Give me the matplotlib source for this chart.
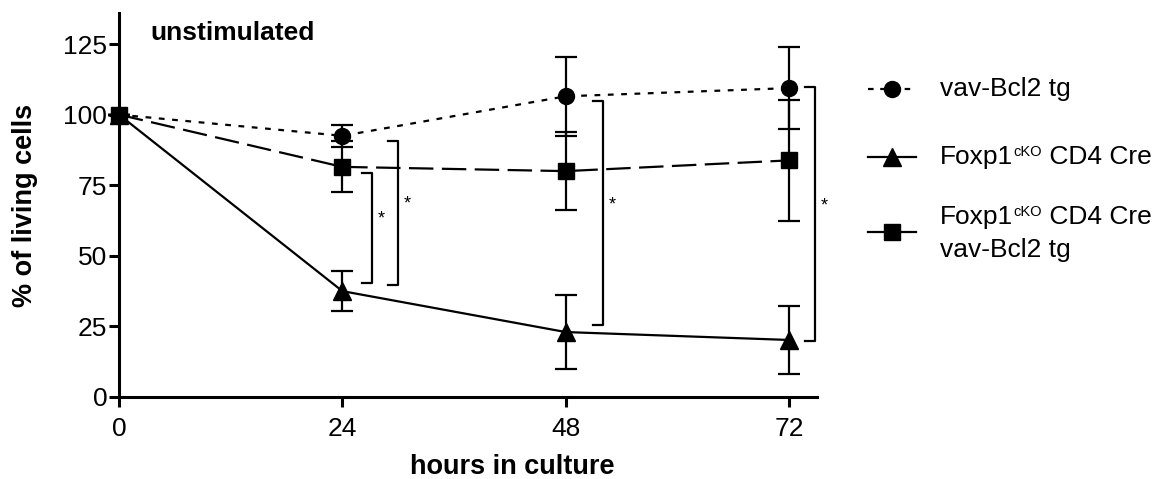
import matplotlib
import matplotlib.pyplot as plt
from matplotlib.lines import Line2D
from matplotlib.offsetbox import TextArea, HPacker, AnchoredOffsetbox
matplotlib.use('Agg')

plt.rcParams['font.family'] = ['Liberation Sans', 'DejaVu Sans']

# time points (hours in culture)
hours = [0, 24, 48, 72]

# vav-Bcl2 tg
bcl2_mean = [100, 92.5, 106.5, 109.4]
bcl2_sd = [0, 4.0, 13.9, 14.6]

# Foxp1 cKO CD4 Cre
ko_mean = [100, 37.5, 23.0, 20.2]
ko_sd = [0, 7.0, 13.0, 12.0]

# Foxp1 cKO CD4 Cre vav-Bcl2 tg
kob_mean = [100, 81.5, 80.0, 83.8]
kob_sd = [0, 9.0, 13.8, 21.3]

# significance brackets: (left x, low y, high y)
sig_x = [26.1, 28.9, 50.9, 73.7]
sig_lo = [40.5, 39.6, 25.5, 19.9]
sig_hi = [79.3, 90.8, 104.7, 109.7]

W, H = 1162, 479
fig = plt.figure(figsize=(W / 100, H / 100), dpi=100)
ax = fig.add_axes([119 / W, 1 - 397 / H, 698 / W, 384 / H])

dot_ls = (0, (2.6, 3.4))
dash_ls = (0, (11, 3.8))
common = dict(color='black', ecolor='black', elinewidth=1.6, capsize=8,
              capthick=1.6, lw=1.6, clip_on=False)
ax.errorbar(hours, bcl2_mean, yerr=bcl2_sd, fmt='o', ms=11.5, ls=dot_ls, **common)
ax.errorbar(hours, ko_mean, yerr=ko_sd, fmt='^', ms=13, ls='-', **common)
ax.errorbar(hours, kob_mean, yerr=kob_sd, fmt='s', ms=11, ls=dash_ls, **common)

# significance brackets
for x0, lo, hi in zip(sig_x, sig_lo, sig_hi):
    x1 = x0 + 1.1
    ax.plot([x0, x1, x1, x0], [lo, lo, hi, hi], color='black', lw=1.6,
            clip_on=False)
    ax.text(x1 + 0.6, (lo + hi) / 2 + 3, '*', fontsize=13, ha='left',
            va='center', clip_on=False)

ax.set_xlim(0, 75)
ax.set_ylim(0, 136)
ax.set_xticks(hours)
ax.set_yticks([0, 25, 50, 75, 100, 125])
ax.spines['top'].set_visible(False)
ax.spines['right'].set_visible(False)
for s in ('left', 'bottom'):
    ax.spines[s].set_linewidth(2.2)
ax.tick_params(width=2.2, length=7.5, labelsize=19)
ax.tick_params(axis='y', pad=1)
ax.tick_params(axis='x', pad=7)

ax.set_xlabel("hours in culture", fontsize=19.5, fontweight='bold')
ax.set_ylabel("% of living cells", fontsize=19.5, fontweight='bold')
ax.xaxis.set_label_coords((512 - 119) / 698, (397 - 467) / 384)
ax.xaxis.label.set_va('center')
ax.yaxis.set_label_coords((25.5 - 119) / 698, 0.5)
ax.yaxis.label.set_va('center')
fig.text(150 / W, 1 - 33 / H, "unstimulated", fontsize=19,
         fontweight='bold', va='center', ha='left')

# legend, drawn by hand so the superscript can be small
fs = 19
rows = [89, 157, 232]
styles = [dict(ls=(0, (2.5, 3)), marker='o', ms=11.5),
          dict(ls='-', marker='^', ms=13),
          dict(ls='-', marker='s', ms=11)]
for y, st in zip(rows, styles):
    yy = 1 - y / H
    fig.add_artist(Line2D([868 / W, 892 / W, 916 / W], [yy, yy, yy],
                          transform=fig.transFigure, color='black', lw=1.6,
                          markevery=[1], **st))

fig.text(940 / W, 1 - 89 / H, "vav-Bcl2 tg", fontsize=fs, va='center')


def foxp1_label(y):
    box = HPacker(children=[TextArea("Foxp1", textprops=dict(fontsize=fs)),
                            TextArea("cKO", textprops=dict(fontsize=10.5)),
                            TextArea(" CD4 Cre", textprops=dict(fontsize=fs))],
                  align='top', pad=0, sep=0)
    anch = AnchoredOffsetbox(loc='center left', child=box, pad=0, borderpad=0,
                             frameon=False, bbox_to_anchor=(940 / W, 1 - y / H),
                             bbox_transform=fig.transFigure)
    fig.add_artist(anch)


foxp1_label(157)
foxp1_label(217)
fig.text(940 / W, 1 - 250 / H, "vav-Bcl2 tg", fontsize=fs, va='center')

fig.savefig('out.png', dpi=100)
